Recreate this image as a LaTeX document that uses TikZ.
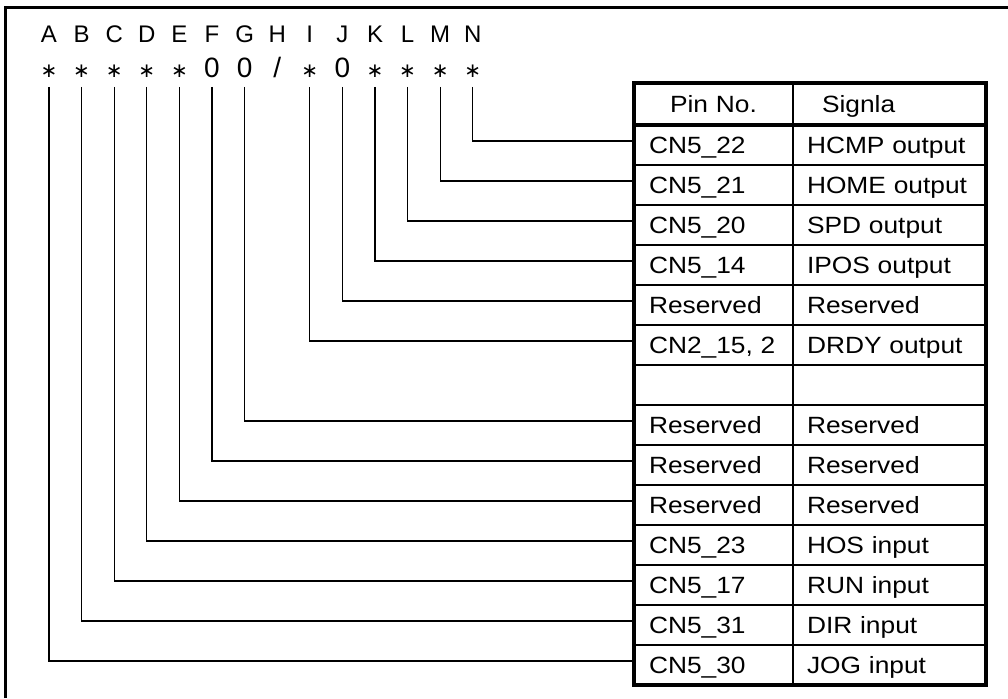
\documentclass[tikz,border=0pt]{standalone}
\usepackage{fontspec}
\setmainfont{Liberation Sans}
\newfontfamily\tabfont{Liberation Sans}[FakeStretch=1.12]
\newfontfamily\symfont{DejaVu Sans}
\usetikzlibrary{positioning}
\newcommand\bitstar{{\symfont\fontsize{20}{22}\selectfont ∗}}

\tikzset{
  pincell/.style={draw, line width=2pt, outer sep=0pt,
    minimum width=159pt, minimum height=40pt, text width=129pt,
    inner xsep=15pt, inner ysep=0pt, align=left,
    execute at begin node={\rule[-4pt]{0pt}{25pt}},
    font=\tabfont\fontsize{23.5}{26}\selectfont},
  sigcell/.style={pincell, minimum width=193pt, text width=165pt, inner xsep=14pt},
  bitname/.style={anchor=base, inner sep=0pt, font=\fontsize{24}{26}\selectfont},
  bitval/.style={anchor=base, inner sep=0pt, font=\fontsize{28}{30}\selectfont},
  wire/.style={line width=1.2pt},
}

\begin{document}
\begin{tikzpicture}[x=1pt,y=-1pt]
  \useasboundingbox (0,0) rectangle (1008,698);
  \draw[line width=3pt] (5,698) -- (5,8) -- (1008,8);

  % bit letters and their values
  \foreach \b/\v [count=\k] in {A/\bitstar,B/\bitstar,C/\bitstar,D/\bitstar,E/\bitstar,
      F/0,G/0,H/{/},I/\bitstar,J/0,K/\bitstar,L/\bitstar,M/\bitstar,N/\bitstar} {
    \node[bitname] (l\b) at ({49+32.6*(\k-1)},43) {\b};
    \node[bitval] (v\b) at ({49+32.6*(\k-1)},78) {\v};
  }

  % pin table
  \node[pincell, minimum height=42pt, align=center, anchor=north west] (p0) at (634,83) {Pin No.};
  \node[sigcell, minimum height=42pt, right=0pt of p0] (s0) {\hspace*{15pt}Signla};
  \foreach \pin/\sig [count=\i, evaluate=\i as \j using int(\i-1)] in {
      CN5\_22/HCMP output, CN5\_21/HOME output, CN5\_20/SPD output,
      CN5\_14/IPOS output, Reserved/Reserved, {CN2\_15, 2}/DRDY output,
      \mbox{}/\mbox{}, Reserved/Reserved, Reserved/Reserved, Reserved/Reserved,
      CN5\_23/HOS input, CN5\_17/RUN input, CN5\_31/DIR input, CN5\_30/JOG input} {
    \node[pincell, below=0pt of p\j] (p\i) {\pin};
    \node[sigcell, right=0pt of p\i] (s\i) {\sig};
  }
  \draw[line width=4pt] (p0.south west) -- (s0.south east);
  \draw[line width=4.5pt] (p0.north west) rectangle (s14.south east);

  % wires from bits to rows
  \foreach \b/\r in {A/14,B/13,C/12,D/11,E/10,F/9,G/8,I/6,J/5,K/4,L/3,M/2,N/1}
    \draw[wire] ([yshift=-9pt]v\b.base) |- ([yshift=4pt]p\r.west);
\end{tikzpicture}
\end{document}
